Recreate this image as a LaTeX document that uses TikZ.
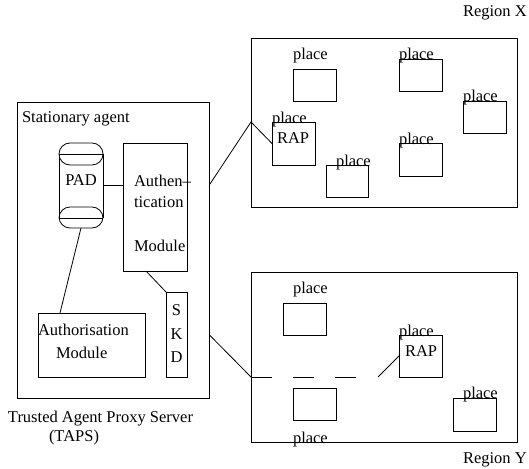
\documentclass[tikz,border=0pt]{standalone}
\usepackage{fontspec}
\setmainfont{Liberation Serif}
\usetikzlibrary{calc}
\begin{document}
\begin{tikzpicture}[x=1pt, y=-1pt, line width=0.8pt,
  box/.style={draw, inner sep=0pt, outer sep=0pt, anchor=north west},
  area/.style={inner sep=0pt, outer sep=0pt, anchor=north west},
  lbl/.style={inner sep=0pt, outer sep=0pt, anchor=base west, font=\fontsize{16.5}{19}\selectfont},
  clbl/.style={lbl, anchor=base},
  gapline/.style={dash pattern=on 21pt off 21pt}]
\useasboundingbox (0,0) rectangle (529,468);

% ---------------- Trusted Agent Proxy Server ----------------
\node[box, minimum width=192pt, minimum height=296pt] (taps) at (17,102) {};
\node[lbl] (tapstitle) at (22,122) {Stationary agent};
\node[lbl] (tapsname) at (8,422) {Trusted Agent Proxy Server};
\node[lbl] (tapsabbr) at (49,441) {(TAPS)};

% PAD drawn as a cylinder
\node[area, minimum width=44pt, minimum height=85pt] (pad) at (59,143) {};
\draw[rounded corners=11pt] (59,143) rectangle (103,165);
\draw[rounded corners=11pt] (59,207) rectangle (103,228);
\draw (59,154) -- (103,154) (59,218) -- (103,218);
\draw (59,154) -- (59,218) (103,154) -- (103,218);
\node[clbl] (padtxt) at (81,185) {PAD};

% Authentication module
\node[box, minimum width=64pt, minimum height=128pt] (auth) at (123,143) {};
\node[lbl] (auth1) at (134,186) {Authen--};
\node[lbl] (auth2) at (134,207) {tication};
\node[lbl] (auth3) at (134,251) {Module};

% SKD
\node[box, minimum width=21pt, minimum height=85pt] (skd) at (166,292) {};
\node[clbl] (skd1) at (176.5,315) {S};
\node[clbl] (skd2) at (176.5,339) {K};
\node[clbl] (skd3) at (176.5,362) {D};

% Authorisation module
\node[box, minimum width=107pt, minimum height=64pt] (authz) at (38,313) {};
\node[lbl] (authz1) at (38,335) {Authorisation};
\node[lbl] (authz2) at (56,358) {Module};

% internal links
\draw (pad.east) -- (pad.east -| auth.west);
\draw (pad.south) -- ($(authz.north west)+(22,0)$);
\draw ($(auth.south)+(-9,0)$) -- (skd.north west);

% ---------------- Region X ----------------
\node[box, minimum width=266pt, minimum height=169pt] (regx) at (251,38) {};
\node[lbl] (regxname) at (463,17) {Region X};

\node[box, minimum width=43pt, minimum height=32pt] (x1) at (293,69) {};
\node[box, minimum width=43pt, minimum height=32pt] (x2) at (399,59) {};
\node[box, minimum width=43pt, minimum height=32pt] (x3) at (463,101) {};
\node[box, minimum width=43pt, minimum height=43pt] (rapx) at (272,122) {};
\node[box, minimum width=42pt, minimum height=32pt] (x5) at (326,165) {};
\node[box, minimum width=43pt, minimum height=33pt] (x6) at (399,143) {};

\node[lbl] (x1l) at (293,60) {place};
\node[lbl] (x2l) at (399,60) {place};
\node[lbl] (x3l) at (463,102) {place};
\node[lbl] (rapxl) at (272,123) {place};
\node[lbl] (rapxt) at (277,143) {RAP};
\node[lbl] (x5l) at (336,166) {place};
\node[lbl] (x6l) at (399,144) {place};

% ---------------- Region Y ----------------
\node[box, minimum width=266pt, minimum height=170pt] (regy) at (251,272) {};
\node[lbl] (regyname) at (463,463) {Region Y};

\node[box, minimum width=43pt, minimum height=32pt] (y1) at (283,303) {};
\node[box, minimum width=43pt, minimum height=42pt] (rapy) at (399,335) {};
\node[box, minimum width=43pt, minimum height=32pt] (y3) at (293,388) {};
\node[box, minimum width=43pt, minimum height=33pt] (y4) at (453,398) {};

\node[lbl] (y1l) at (293,293) {place};
\node[lbl] (rapyl) at (399,336) {place};
\node[lbl] (rapyt) at (405,356) {RAP};
\node[lbl] (y3l) at (293,443.5) {place};
\node[lbl] (y4l) at (463,398) {place};

% ---------------- links to the regions ----------------
\coordinate (xentry) at (regx.west |- rapx.north);
\draw (taps.east |- pad.center) -- (xentry) -- (rapx.west);

\coordinate (yentry) at (regy.west |- rapy.south);
\coordinate (ygapend) at (357,377);
\coordinate (yresume) at (378,377);
\draw (taps.east |- skd.center) -- (yentry);
\draw[gapline] (yentry) -- (ygapend);
\draw (yresume) -- (rapy.west);
\end{tikzpicture}
\end{document}
